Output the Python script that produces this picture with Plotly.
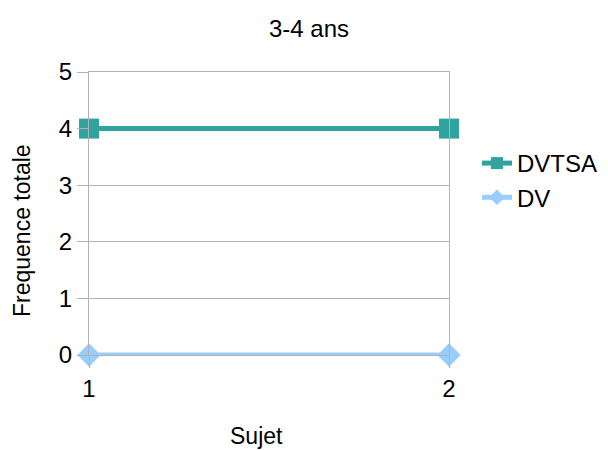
import plotly.graph_objects as go

subjects = [1, 2]
dvtsa = [4, 4]
dv = [0, 0]
y_ticks = [0, 1, 2, 3, 4, 5]

TEAL = "#31A39F"
LBLUE = "#99CCFF"
GRID = "#B3B3B3"
FONT = "Liberation Sans, Arial, sans-serif"

# page body has an 8px margin, so the figure is drawn 8px smaller and shifted
PW, PH = 360, 283  # plot area size in px

fig = go.Figure()
fig.add_trace(go.Scatter(x=subjects, y=dvtsa, name="DVTSA", mode="lines+markers",
                         line=dict(color=TEAL, width=5),
                         marker=dict(symbol="square", size=20, color=TEAL),
                         cliponaxis=False))
fig.add_trace(go.Scatter(x=subjects, y=dv, name="DV", mode="lines+markers",
                         line=dict(color=LBLUE, width=5),
                         marker=dict(symbol="diamond", size=18, color=LBLUE),
                         cliponaxis=False))

fig.update_layout(
    width=600, height=442,
    margin=dict(l=81, r=159, t=64, b=95, autoexpand=False),
    paper_bgcolor="white", plot_bgcolor="white",
    font=dict(family=FONT, color="black"),
    showlegend=True,
    legend=dict(x=(477 - 89) / PW, xanchor="left", y=(355 - 141) / PH, yanchor="top",
                font=dict(size=24, family=FONT), itemwidth=30, itemsizing="constant",
                tracegroupgap=0, bgcolor="rgba(0,0,0,0)"),
    xaxis=dict(range=[1, 2], tickvals=subjects, ticktext=[str(s) for s in subjects],
               showgrid=True, gridcolor=GRID, gridwidth=1,
               showline=True, mirror=True, linecolor=GRID, linewidth=1,
               ticks="outside", ticklen=12, tickcolor=GRID,
               tickfont=dict(size=24), zeroline=False),
    yaxis=dict(range=[0, 5], tickvals=y_ticks,
               showgrid=True, gridcolor=GRID, gridwidth=1,
               showline=True, mirror=True, linecolor=GRID, linewidth=1,
               ticks="outside", ticklen=11, tickcolor=GRID,
               tickfont=dict(size=24), zeroline=False),
    annotations=[
        dict(text="3-4 ans", xref="paper", yref="paper", x=(309 - 89) / PW, y=1 + (72 - 28) / PH,
             xanchor="center", yanchor="middle", showarrow=False, font=dict(size=24)),
        dict(text="Sujet", xref="paper", yref="paper", x=(256 - 89) / PW, y=-(436 - 355) / PH,
             xanchor="center", yanchor="middle", showarrow=False, font=dict(size=23)),
        dict(text="Frequence totale", xref="paper", yref="paper", x=-(89 - 22) / PW,
             y=(355 - 231) / PH, xanchor="center", yanchor="middle", textangle=-90,
             showarrow=False, font=dict(size=23)),
    ],
)

fig.write_html("out.html")
